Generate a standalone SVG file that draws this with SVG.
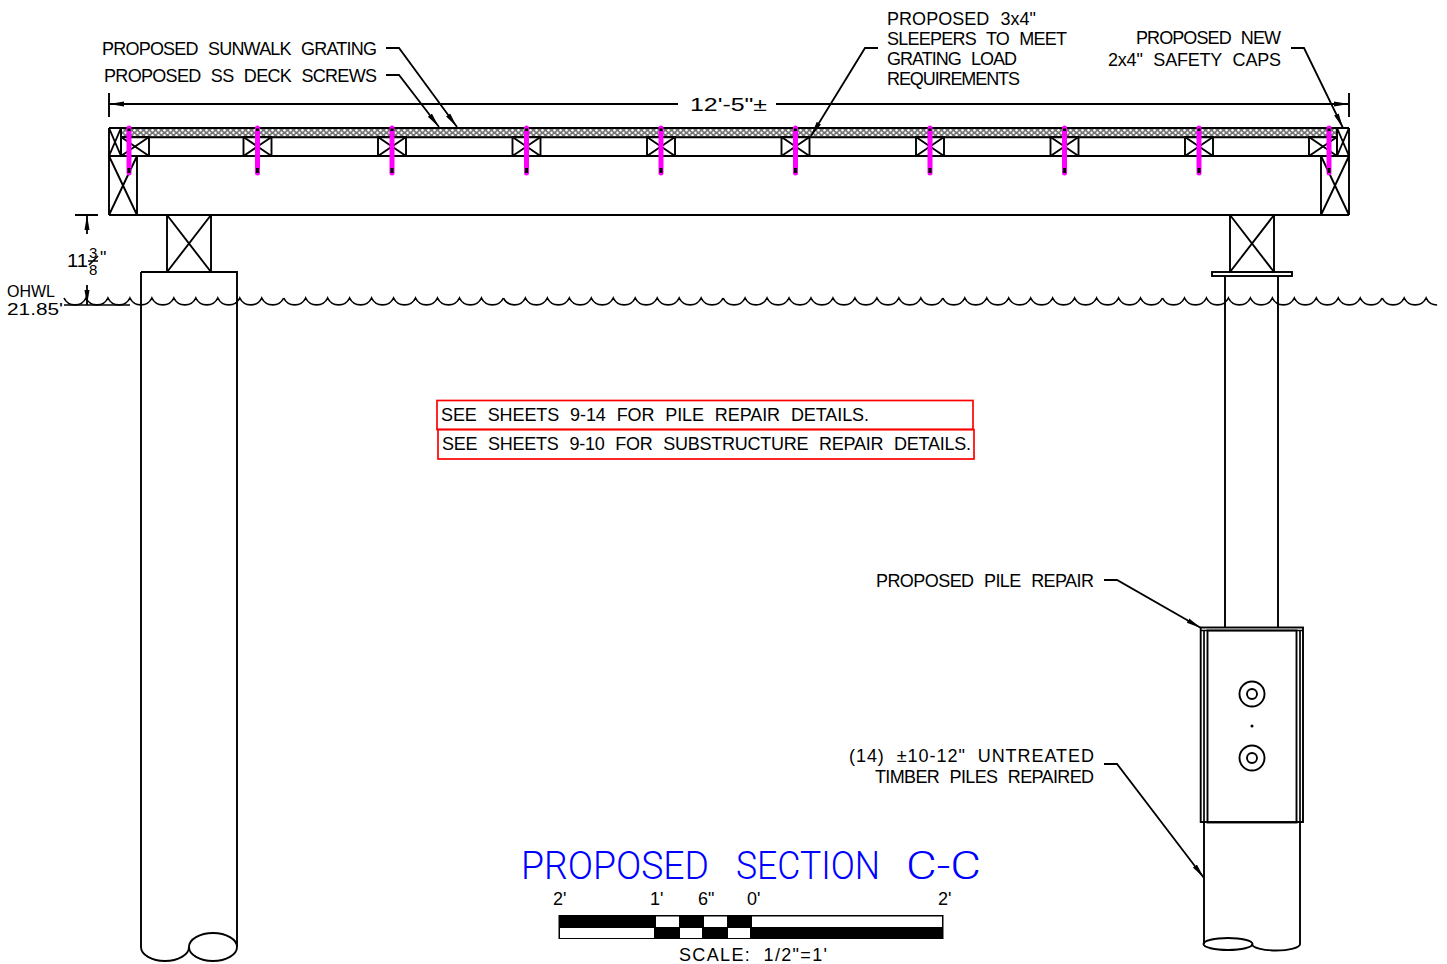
<svg xmlns="http://www.w3.org/2000/svg" xmlns:xlink="http://www.w3.org/1999/xlink" width="1447" height="964" viewBox="0 0 1447 964">
<style>
.l{fill:none;stroke:#000;stroke-width:1.9}
.w{fill:#fff;stroke:#000;stroke-width:1.9}
.f{fill:none;stroke:#000;stroke-width:1.7}
.t{font-family:"Liberation Sans",Arial,sans-serif;font-size:18px;fill:#000;word-spacing:6px}
.r{fill:none;stroke:#f00;stroke-width:1.7}
.pin{stroke:#f0f;stroke-width:5;stroke-linecap:round;fill:none}
.tip{stroke:#000;stroke-width:3;fill:none}
.lead{fill:none;stroke:#000;stroke-width:1.8;marker-end:url(#ah)}
.b{fill:#000}
</style>
<defs>
<marker id="ah" markerUnits="userSpaceOnUse" markerWidth="17" markerHeight="7" refX="15" refY="3.500" orient="auto"><path d="M0 1L15 3.500L0 6Z" fill="#000"/></marker>
<pattern id="hatch" patternUnits="userSpaceOnUse" width="6" height="5" x="121" y="129"><rect width="6" height="5" fill="#777"/><circle cx="1.500" cy="1.250" r="1.200" fill="#fff"/><circle cx="4.500" cy="3.750" r="1.200" fill="#fff"/></pattern>
<g id="sl"><rect class="l" x="-14" y="137" width="28" height="19"/><path class="l" d="M-14 137L14 156M14 137L-14 156"/></g>
<g id="pn"><path class="pin" d="M0 128V173"/><path class="tip" d="M0 128.500V131M0 168V173"/></g>
<path id="wv" class="f" d="M0 298a12.200 12.200 0 0 0 21.970 0a12.200 12.200 0 0 0 21.970 0a12.200 12.200 0 0 0 21.970 0a12.200 12.200 0 0 0 21.970 0a12.200 12.200 0 0 0 21.970 0a12.200 12.200 0 0 0 21.970 0a12.200 12.200 0 0 0 21.970 0a12.200 12.200 0 0 0 21.970 0a12.200 12.200 0 0 0 21.970 0a12.200 12.200 0 0 0 21.970 0"/>
</defs>
<rect width="1447" height="964" fill="#fff"/>

<g id="left-pile">
<path class="l" d="M141 272H237V947M141 272V947A24 14 0 0 0 189 947"/>
<ellipse class="l" cx="213" cy="947" rx="24" ry="14"/>
</g>
<g id="right-pile">
<path class="l" d="M1225 276V628M1278 276V628M1204 822V944M1300 822V944A24 6.500 0 0 1 1252 944"/>
<ellipse class="l" cx="1228" cy="944" rx="24.500" ry="6"/>
</g>
<g id="water">
<use href="#wv" x="64"/><use href="#wv" x="283.700"/><use href="#wv" x="503.400"/><use href="#wv" x="723.100"/><use href="#wv" x="942.800"/><use href="#wv" x="1162.500"/>
<path class="f" d="M1382.200 298a12.200 12.200 0 0 0 21.970 0a12.200 12.200 0 0 0 21.970 0a12.200 12.200 0 0 0 11 7"/>
<path class="f" d="M64 305H130"/>
</g>
<g id="left-support"><rect class="l" x="167" y="215" width="44" height="57"/><path class="l" d="M167 215L211 272M211 215L167 272"/></g>
<g id="right-support"><rect class="l" x="1230" y="215" width="44" height="57"/><path class="l" d="M1230 215L1274 272M1274 215L1230 272"/><rect class="l" x="1212" y="272" width="80" height="4"/></g>
<g id="deck">
<path class="l" d="M109 128H1349M109 156H1349M109 215H1349M109 128V215M1349 128V215M137 156V215M1321 156V215"/>
<rect x="121" y="129" width="1216" height="8" fill="url(#hatch)"/>
<path class="l" d="M121 137.300H1337M121 128V156M1337 128V156"/>
<path class="l" d="M109 128L121 156M121 128L109 156M1337 128L1349 156M1349 128L1337 156M109 156L137 215M137 156L109 215M1321 156L1349 215M1349 156L1321 215"/>
</g>
<g id="sleepers">
<use href="#sl" x="135"/><use href="#sl" x="257.500"/><use href="#sl" x="392"/><use href="#sl" x="526.500"/><use href="#sl" x="661"/><use href="#sl" x="795.500"/><use href="#sl" x="930"/><use href="#sl" x="1064.500"/><use href="#sl" x="1199"/><use href="#sl" x="1323"/>
</g>
<g id="screws">
<use href="#pn" x="129"/><use href="#pn" x="257.500"/><use href="#pn" x="392"/><use href="#pn" x="526.500"/><use href="#pn" x="661"/><use href="#pn" x="795.500"/><use href="#pn" x="930"/><use href="#pn" x="1064.500"/><use href="#pn" x="1199"/><use href="#pn" x="1329"/>
</g>
<g id="pile-repair">
<rect class="w" x="1200.700" y="627.500" width="102.300" height="194.500"/>
<path class="f" d="M1204 630V822M1300 630V822M1200.700 630.500H1303"/>
<rect class="l" x="1207.500" y="630.500" width="89" height="192"/>
<circle class="l" cx="1252" cy="694" r="12.500"/><circle class="l" cx="1252" cy="694" r="5"/>
<circle class="b" cx="1252" cy="726" r="1.500"/>
<circle class="l" cx="1252" cy="758" r="12.500"/><circle class="l" cx="1252" cy="758" r="5"/>
</g>
<g id="connectors">
<path class="lead" d="M386 48H399L457 127"/>
<path class="lead" d="M386 75H399L439 127"/>
<path class="lead" d="M878 48H865L811 136"/>
<path class="lead" d="M1291 48H1304L1343 128"/>
<path class="lead" d="M1104 580H1117L1201 628"/>
<path class="lead" d="M1104 764H1117L1204 878"/>
<path class="lead" d="M678 104H109"/>
<path class="lead" d="M776 104H1349"/>
<path class="l" d="M109 93V117M1349 93V117M75 215H98"/>
<path class="lead" d="M87 234V215"/>
<path class="lead" d="M87 285V305"/>
</g>
<g id="labels">
<text class="t" x="102" y="55" textLength="275">PROPOSED SUNWALK GRATING</text>
<text class="t" x="104" y="82" textLength="273">PROPOSED SS DECK SCREWS</text>
<text class="t" x="887" y="25" textLength="149">PROPOSED 3x4"</text>
<text class="t" x="887" y="45" textLength="180">SLEEPERS TO MEET</text>
<text class="t" x="887" y="65" textLength="130">GRATING LOAD</text>
<text class="t" x="887" y="85" textLength="133">REQUIREMENTS</text>
<text class="t" x="1136" y="44" textLength="145">PROPOSED NEW</text>
<text class="t" x="1108" y="66" textLength="173">2x4" SAFETY CAPS</text>
<text class="t" x="690" y="111" textLength="77" lengthAdjust="spacingAndGlyphs">12'-5"±</text>
<text class="t" x="876" y="587" textLength="218">PROPOSED PILE REPAIR</text>
<text class="t" x="849" y="762" textLength="245">(14) ±10-12" UNTREATED</text>
<text class="t" x="875" y="783" textLength="219">TIMBER PILES REPAIRED</text>
</g>
<g id="dimension-ohwl">
<text class="t" x="67" y="267" textLength="21" lengthAdjust="spacingAndGlyphs">11</text>
<text class="t" x="89" y="258" style="font-size:15px">3</text>
<text class="t" x="89" y="275" style="font-size:15px">8</text>
<text class="t" x="100" y="264" style="font-size:18px">"</text>
<path class="f" d="M88 261H98M89 265L98 256"/>
<text class="t" x="7" y="296.500" textLength="48" lengthAdjust="spacingAndGlyphs" style="font-size:16px">OHWL</text>
<text class="t" x="7" y="315" textLength="56" lengthAdjust="spacingAndGlyphs" style="font-size:16px">21.85'</text>
</g>
<g id="notes">
<rect class="r" x="437" y="400.500" width="536" height="29"/>
<rect class="r" x="438" y="429.500" width="536" height="29.500"/>
<text class="t" x="441" y="421" textLength="428">SEE SHEETS 9-14 FOR PILE REPAIR DETAILS.</text>
<text class="t" x="442" y="450" textLength="529">SEE SHEETS 9-10 FOR SUBSTRUCTURE REPAIR DETAILS.</text>
</g>
<g id="title">
<text y="879" style="font-family:Roboto,'Liberation Sans',sans-serif;font-weight:300;font-size:39px;fill:#00f"><tspan x="521" textLength="188" lengthAdjust="spacingAndGlyphs">PROPOSED</tspan> <tspan x="736" textLength="144" lengthAdjust="spacingAndGlyphs">SECTION</tspan> <tspan x="906" textLength="75" lengthAdjust="spacingAndGlyphs">C-C</tspan></text>
</g>
<g id="scale-bar">
<rect x="558.500" y="915" width="385" height="24" fill="#000"/>
<rect x="656" y="916.500" width="23" height="10.500" fill="#fff"/>
<rect x="704" y="916.500" width="23" height="10.500" fill="#fff"/>
<rect x="752" y="916.500" width="190" height="10.500" fill="#fff"/>
<rect x="560" y="928" width="94" height="10" fill="#fff"/>
<rect x="680" y="928" width="22" height="10" fill="#fff"/>
<rect x="728" y="928" width="22" height="10" fill="#fff"/>
<text class="t" x="553" y="905">2'</text>
<text class="t" x="650" y="905">1'</text>
<text class="t" x="698" y="905">6"</text>
<text class="t" x="747" y="905">0'</text>
<text class="t" x="938" y="905">2'</text>
<text class="t" x="679" y="961" textLength="148">SCALE: 1/2"=1'</text>
</g>
</svg>
